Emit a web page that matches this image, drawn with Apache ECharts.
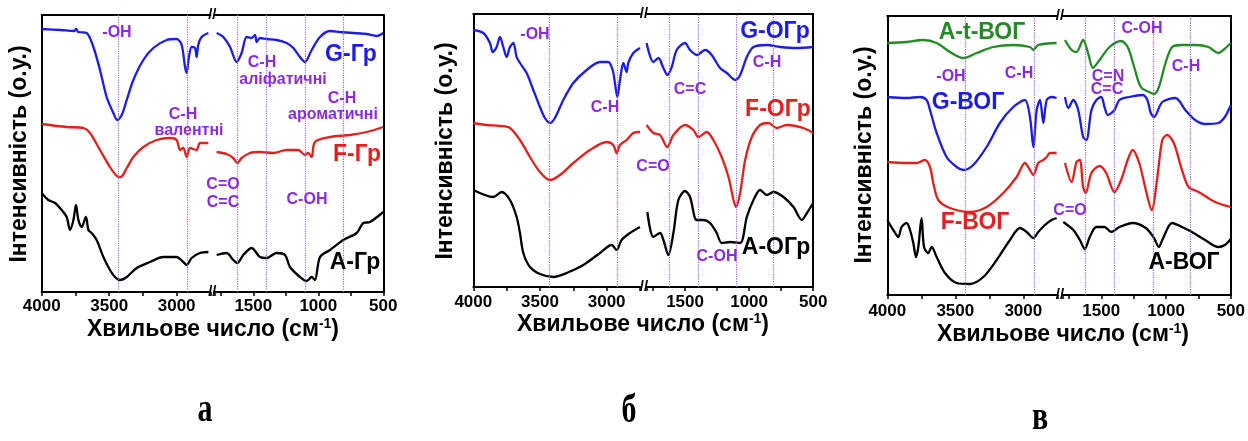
<!DOCTYPE html>
<html>
<head>
<meta charset="utf-8">
<script src="https://cdn.jsdelivr.net/npm/echarts@6/dist/echarts.min.js"></script>
<style>
  html, body { margin: 0; padding: 0; background: #fff; }
  #chart { width: 1248px; height: 441px; }
</style>
</head>
<body>
<div id="chart"></div>
<script>
// ІЧ-спектри, [хвильове число, інтенсивність (о.у.)], ліва частина 4000-2750, права 1800-500

// а) Гр
var gGrLeft = [[4000,263],[3860,262],[3760,261],[3745,263],[3730,260],[3667,259],[3617,245],[3568,222],[3519,195],[3469,179],[3440,172],[3407,177],[3370,192],[3321,212],[3247,232],[3173,244],[3074,252],[3000,253],[2963,247],[2938,225],[2926,219],[2909,235],[2889,245],[2864,244],[2852,235],[2840,247],[2815,255],[2765,259]];
var gGrRight = [[1782,259],[1731,255],[1679,245],[1628,230],[1590,239],[1551,255],[1513,254],[1487,257],[1474,250],[1449,254],[1397,253],[1321,252],[1244,249],[1192,244],[1141,235],[1103,230],[1051,242],[987,255],[910,261],[833,260],[731,259],[628,258],[551,256],[500,259]];
var fGrLeft = [[4000,168],[3815,165],[3691,164],[3642,159],[3568,142],[3494,125],[3444,116],[3415,115],[3370,124],[3321,135],[3247,145],[3148,152],[3049,154],[3000,152],[2975,142],[2951,144],[2926,135],[2901,144],[2852,142],[2827,149],[2765,149]];
var fGrRight = [[1782,140],[1705,138],[1654,134],[1623,129],[1590,134],[1526,139],[1449,140],[1346,139],[1244,142],[1154,142],[1103,137],[1077,139],[1051,135],[1026,150],[910,155],[756,157],[628,160],[500,165]];
var aGrLeft = [[4000,99],[3951,92],[3901,89],[3852,82],[3815,75],[3790,62],[3765,72],[3746,87],[3728,72],[3704,65],[3672,75],[3654,62],[3630,59],[3593,52],[3543,35],[3494,22],[3457,15],[3420,12],[3370,15],[3296,24],[3198,30],[3099,35],[3000,35],[2951,30],[2926,27],[2889,34],[2827,39],[2765,40]];
var aGrRight = [[1782,37],[1705,39],[1654,32],[1623,29],[1577,37],[1513,44],[1449,35],[1397,34],[1321,39],[1256,37],[1218,25],[1141,15],[1090,11],[1051,15],[1026,12],[987,35],[910,42],[808,52],[705,59],[654,69],[603,70],[500,80]];

// б) ОГр
var gOGrLeft = [[4000,257],[3925,254],[3875,244],[3855,235],[3825,240],[3800,250],[3775,240],[3750,230],[3725,240],[3700,244],[3675,230],[3650,224],[3600,214],[3550,197],[3500,180],[3463,169],[3425,164],[3388,169],[3325,187],[3250,204],[3150,217],[3050,225],[2988,225],[2955,217],[2938,204],[2920,190],[2900,207],[2875,224],[2850,215],[2838,224],[2800,234],[2750,239]];
var gOGrRight = [[1800,244],[1747,225],[1708,229],[1669,219],[1638,212],[1604,220],[1565,237],[1500,244],[1461,237],[1409,232],[1344,237],[1292,232],[1227,219],[1174,214],[1109,207],[1070,212],[1018,230],[966,240],[862,242],[758,240],[628,239],[500,240]];
var fOGrLeft = [[4000,164],[3900,162],[3800,161],[3725,159],[3650,147],[3575,130],[3500,115],[3425,107],[3350,112],[3250,124],[3125,137],[3000,145],[2950,142],[2925,134],[2900,142],[2850,147],[2800,154],[2750,155]];
var fOGrRight = [[1800,162],[1747,154],[1695,152],[1638,140],[1591,152],[1500,162],[1435,157],[1396,150],[1331,155],[1279,147],[1214,130],[1161,110],[1122,87],[1102,80],[1070,94],[1031,127],[979,150],[914,162],[849,164],[784,159],[706,162],[576,159],[500,154]];
var aOGrLeft = [[4000,97],[3850,90],[3788,95],[3725,87],[3675,70],[3650,54],[3625,34],[3575,20],[3500,13],[3400,10],[3300,14],[3175,22],[3050,34],[2963,42],[2925,37],[2888,47],[2825,54],[2750,60]];
var aOGrRight = [[1794,75],[1747,50],[1695,54],[1669,47],[1630,32],[1591,54],[1552,87],[1500,96],[1461,90],[1409,67],[1357,67],[1305,64],[1253,54],[1214,44],[1148,45],[1070,44],[1018,70],[966,87],[914,97],[862,92],[810,95],[732,90],[654,80],[589,67],[549,74],[500,84]];

// в) ВОГ
var atVOGLeft = [[4000,252],[3858,253],[3735,255],[3637,252],[3539,243],[3441,237],[3343,242],[3221,248],[3074,250],[2951,248],[2926,245],[2890,250],[2755,252]];
var atVOGRight = [[1780,255],[1729,245],[1691,243],[1640,255],[1602,242],[1564,227],[1513,235],[1436,248],[1347,254],[1296,248],[1246,228],[1195,208],[1131,203],[1092,201],[1055,208],[1004,232],[953,248],[877,250],[775,250],[673,248],[597,242],[558,245],[500,252]];
var gVOGLeft = [[4000,198],[3858,197],[3760,198],[3711,195],[3686,185],[3637,162],[3564,138],[3490,128],[3441,125],[3368,130],[3270,148],[3172,172],[3074,188],[2988,195],[2951,178],[2926,148],[2902,185],[2877,195],[2853,172],[2828,195],[2792,198],[2755,197]];
var gVOGRight = [[1780,198],[1754,187],[1716,195],[1678,185],[1640,158],[1615,155],[1576,185],[1538,195],[1500,198],[1475,188],[1449,180],[1398,185],[1360,195],[1284,198],[1182,200],[1144,195],[1118,182],[1093,178],[1029,193],[927,197],[851,185],[775,175],[698,171],[597,172],[546,178],[500,190]];
var fVOGLeft = [[4000,133],[3858,132],[3784,132],[3723,135],[3686,128],[3662,112],[3625,95],[3539,87],[3392,83],[3270,88],[3147,102],[3049,118],[2988,132],[2951,125],[2926,120],[2890,132],[2853,135],[2828,138],[2804,142],[2755,142]];
var fVOGRight = [[1780,132],[1729,113],[1691,133],[1665,135],[1640,108],[1620,102],[1576,122],[1513,129],[1462,122],[1398,103],[1347,115],[1296,135],[1258,145],[1207,132],[1156,105],[1111,85],[1067,118],[1029,155],[991,160],[940,152],[877,125],[826,108],[749,103],[622,93],[500,88]];
var aVOGLeft = [[4000,75],[3956,65],[3919,58],[3895,68],[3858,72],[3833,65],[3809,52],[3789,38],[3772,48],[3748,77],[3730,48],[3699,42],[3674,48],[3637,38],[3576,22],[3490,12],[3392,11],[3294,18],[3196,35],[3098,55],[3025,67],[2975,63],[2926,57],[2890,63],[2841,70],[2792,75],[2755,77]];
var aVOGRight = [[1793,73],[1716,65],[1665,55],[1627,46],[1589,58],[1538,68],[1475,68],[1424,63],[1360,68],[1258,72],[1156,67],[1093,57],[1055,48],[1029,55],[953,72],[877,68],[800,63],[698,55],[597,48],[546,50],[500,56]];

// пунктирні лінії смуг
var bandsLeft = [3430, 2920];
var bandsRight = [1620, 1400, 1100, 810];

var BLUE = '#1c1ce6', RED = '#e2201c', BLACK = '#000000', GREEN = '#248a24', VIOLET = '#8a2be2';
var SANS = '"Liberation Sans", Arial, sans-serif';

var panels = [
    {left: 41.7, top: 15, bottom: 292, leftW: 168.7, rightX: 214.3, rightW: 169, breakX: 212.3, margin: 6,
     curves: [[gGrLeft, gGrRight, BLUE], [fGrLeft, fGrRight, RED], [aGrLeft, aGrRight, BLACK]]},
    {left: 473.3, top: 14, bottom: 287, leftW: 166.7, rightX: 646.6, rightW: 166.6, breakX: 644, margin: 7,
     curves: [[gOGrLeft, gOGrRight, BLUE], [fOGrLeft, fOGrRight, RED], [aOGrLeft, aOGrRight, BLACK]]},
    {left: 887.3, top: 16, bottom: 295, leftW: 170, rightX: 1062.4, rightW: 170.2, breakX: 1060, margin: 8,
     curves: [[atVOGLeft, atVOGRight, GREEN], [gVOGLeft, gVOGRight, BLUE], [fVOGLeft, fVOGRight, RED], [aVOGLeft, aVOGRight, BLACK]]}
];

var grid = [], xAxis = [], yAxis = [], series = [], graphic = [];

panels.forEach(function (p) {
    var h = p.bottom - p.top;
    var parts = [
        {left: p.left, width: p.leftW, min: 2750, max: 4000, pos: 'left', bands: bandsLeft},
        {left: p.rightX, width: p.rightW, min: 500, max: 1800, pos: 'right', bands: bandsRight}
    ];
    parts.forEach(function (s, k) {
        var g = grid.length;
        grid.push({left: s.left, top: p.top, width: s.width, height: h});
        xAxis.push({
            gridIndex: g, type: 'value', min: s.min, max: s.max, interval: 250, inverse: true,
            axisLine: {onZero: false, lineStyle: {color: '#000', width: 2}},
            axisTick: {length: 4, lineStyle: {color: '#000', width: 1.5}},
            axisLabel: {
                margin: p.margin, color: '#000', fontFamily: SANS, fontWeight: 'bold', fontSize: 17,
                formatter: function (v) { return v % 500 === 0 ? String(v) : ''; }
            },
            splitLine: {show: false}
        });
        xAxis.push({
            gridIndex: g, type: 'value', position: 'top', min: s.min, max: s.max, inverse: true,
            axisLine: {onZero: false, lineStyle: {color: '#000', width: 2}},
            axisTick: {show: false}, axisLabel: {show: false}, splitLine: {show: false}
        });
        yAxis.push({
            gridIndex: g, type: 'value', min: 0, max: h, position: s.pos,
            axisLine: {show: true, onZero: false, lineStyle: {color: '#000', width: 2}},
            axisTick: {show: false}, axisLabel: {show: false}, splitLine: {show: false}
        });
        p.curves.forEach(function (c, j) {
            var ser = {
                type: 'line', xAxisIndex: 2 * g, yAxisIndex: g, data: c[k],
                showSymbol: false, smooth: 0.3,
                lineStyle: {color: c[2], width: 2.3}, itemStyle: {color: c[2]}
            };
            if (j === 0) {
                ser.markLine = {
                    silent: true, symbol: ['none', 'none'], label: {show: false},
                    lineStyle: {type: 'dotted', color: '#9466d8', width: 1.2},
                    data: s.bands.map(function (b) { return {xAxis: b}; })
                };
            }
            series.push(ser);
        });
    });

    // розриви осі
    [p.top, p.bottom].forEach(function (yy) {
        graphic.push(txt(p.breakX, yy, '//', '#000', 15));
    });
});

function txt(x, y, text, color, size, family) {
    return {
        type: 'text', x: x, y: y, silent: true, z: 100,
        style: {
            text: text, fill: color,
            font: 'bold ' + size + 'px ' + (family || SANS),
            align: 'center', verticalAlign: 'middle',
            textAlign: 'center', textVerticalAlign: 'middle'
        }
    };
}

function xTitle(x, y) {
    return {
        type: 'text', x: x, y: y, silent: true,
        style: {
            text: '{a|Хвильове число (см}{b|-1}{a|)}',
            align: 'center', verticalAlign: 'middle', textAlign: 'center', textVerticalAlign: 'middle',
            rich: {
                a: {fontFamily: SANS, fontWeight: 'bold', fontSize: 23, fill: '#000', lineHeight: 26},
                b: {fontFamily: SANS, fontWeight: 'bold', fontSize: 14, fill: '#000', lineHeight: 26, verticalAlign: 'top'}
            }
        }
    };
}

function yTitle(x, y) {
    var t = txt(x, y, 'Інтенсивність (о.у.)', '#000', 23);
    t.rotation = Math.PI / 2;
    return t;
}

function letter(x, y, text) {
    var t = txt(x, y, text, '#000', 30, '"Liberation Serif", "Times New Roman", serif');
    t.scaleY = 1.35;
    return t;
}

graphic.push(
    xTitle(213, 330), xTitle(643, 325), xTitle(1063, 335),
    yTitle(20, 154), yTitle(446, 151), yTitle(865, 155),
    letter(205, 411, 'а'), letter(629, 412, 'б'), letter(1040, 419, 'в'),

    // а
    txt(117, 33, '-OH', VIOLET, 16),
    txt(183, 115, 'C-H', VIOLET, 16), txt(189, 131, 'валентні', VIOLET, 16),
    txt(262, 63, 'C-H', VIOLET, 16), txt(283, 80, 'аліфатичні', VIOLET, 16),
    txt(342, 99, 'C-H', VIOLET, 16), txt(333, 115, 'ароматичні', VIOLET, 16),
    txt(223, 185, 'C=O', VIOLET, 16), txt(223, 203, 'C=C', VIOLET, 16),
    txt(307, 200, 'C-OH', VIOLET, 16),
    txt(351, 55, 'G-Гр', BLUE, 23), txt(357, 155, 'F-Гр', RED, 23), txt(355, 263, 'A-Гр', BLACK, 23),

    // б
    txt(535, 35, '-OH', VIOLET, 16),
    txt(605, 108, 'C-H', VIOLET, 16),
    txt(690, 90, 'C=C', VIOLET, 16),
    txt(767, 63, 'C-H', VIOLET, 16),
    txt(653, 167, 'C=O', VIOLET, 16),
    txt(717, 257, 'C-OH', VIOLET, 16),
    txt(775, 32, 'G-ОГр', BLUE, 23), txt(778, 110, 'F-ОГр', RED, 23), txt(776, 248, 'A-ОГр', BLACK, 23),

    // в
    txt(982, 33, 'A-t-ВОГ', GREEN, 23),
    txt(1142, 29, 'C-OH', VIOLET, 16),
    txt(951, 77, '-OH', VIOLET, 16),
    txt(1019, 74, 'C-H', VIOLET, 16),
    txt(1108, 77, 'C=N', VIOLET, 16), txt(1107, 90, 'C=C', VIOLET, 16),
    txt(1186, 67, 'C-H', VIOLET, 16),
    txt(968, 103, 'G-ВОГ', BLUE, 23),
    txt(975, 223, 'F-ВОГ', RED, 23),
    txt(1070, 211, 'C=O', VIOLET, 16),
    txt(1184, 263, 'A-ВОГ', BLACK, 23)
);

var chart = echarts.init(document.getElementById('chart'));
chart.setOption({
    animation: false,
    backgroundColor: '#fff',
    grid: grid,
    xAxis: xAxis,
    yAxis: yAxis,
    series: series,
    graphic: graphic
});
</script>
</body>
</html>
